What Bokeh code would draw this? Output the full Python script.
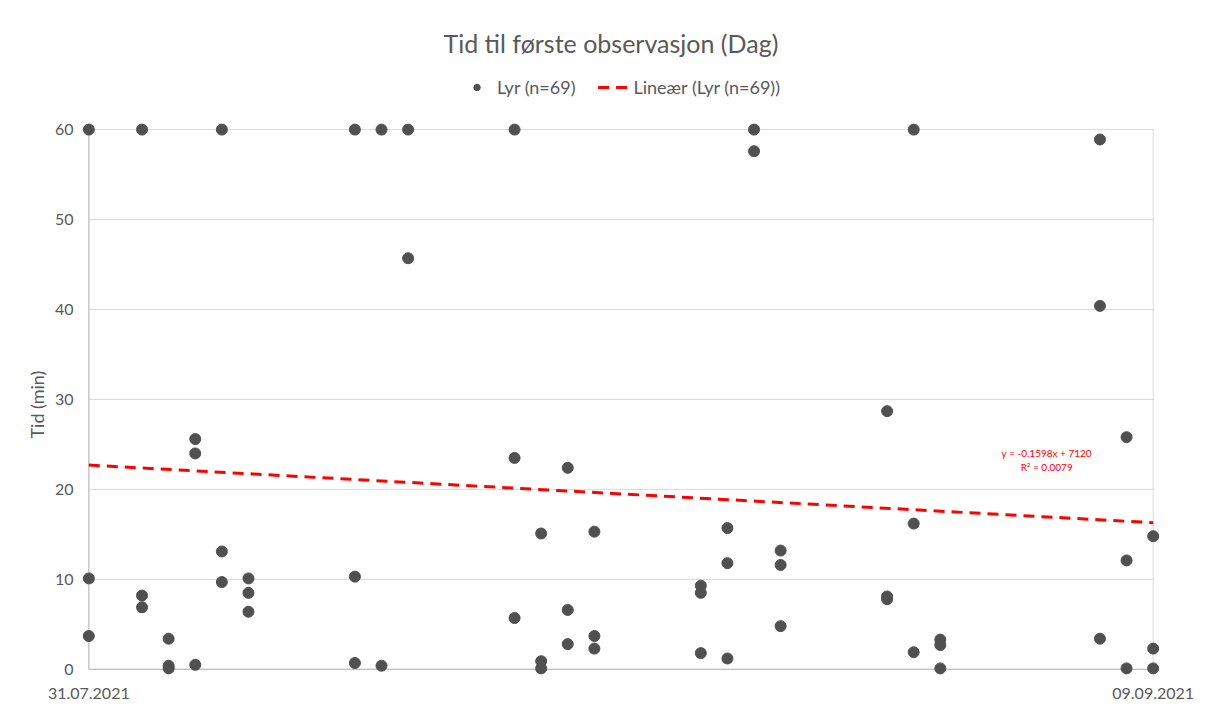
import pandas as pd
from bokeh.plotting import figure
from bokeh.models import (Range1d, Legend, LegendItem, FixedTicker,
                          DatetimeTickFormatter, Label, Title, ColumnDataSource)
from bokeh.embed import file_html
from bokeh.resources import INLINE

# ---------------- data ----------------
title_text = "Tid til første observasjon (Dag)"
series_name = "Lyr (n=69)"
trend_name = "Lineær (Lyr (n=69))"
y_title = "Tid (min)"
trend_equation = "y = -0.1598x + 7120"
trend_r2 = "R² = 0.0079"

obs_date = [
    "31.07.2021", "31.07.2021", "31.07.2021",
    "02.08.2021", "02.08.2021", "02.08.2021",
    "03.08.2021", "03.08.2021", "03.08.2021",
    "04.08.2021", "04.08.2021", "04.08.2021",
    "05.08.2021", "05.08.2021", "05.08.2021",
    "06.08.2021", "06.08.2021", "06.08.2021",
    "10.08.2021", "10.08.2021", "10.08.2021",
    "11.08.2021", "11.08.2021",
    "12.08.2021", "12.08.2021",
    "16.08.2021", "16.08.2021", "16.08.2021",
    "17.08.2021", "17.08.2021", "17.08.2021",
    "18.08.2021", "18.08.2021", "18.08.2021",
    "19.08.2021", "19.08.2021", "19.08.2021",
    "23.08.2021", "23.08.2021", "23.08.2021",
    "24.08.2021", "24.08.2021", "24.08.2021",
    "25.08.2021", "25.08.2021",
    "26.08.2021", "26.08.2021", "26.08.2021",
    "30.08.2021", "30.08.2021", "30.08.2021",
    "31.08.2021", "31.08.2021", "31.08.2021",
    "01.09.2021", "01.09.2021", "01.09.2021",
    "07.09.2021", "07.09.2021", "07.09.2021",
    "08.09.2021", "08.09.2021", "08.09.2021",
    "09.09.2021", "09.09.2021", "09.09.2021",
]
tid_min = [
    60, 10.1, 3.7,
    60, 8.2, 6.9,
    3.4, 0.4, 0.1,
    25.6, 24.0, 0.5,
    60, 13.1, 9.7,
    10.1, 8.5, 6.4,
    60, 10.3, 0.7,
    60, 0.4,
    60, 45.7,
    60, 23.5, 5.7,
    15.1, 0.9, 0.1,
    22.4, 6.6, 2.8,
    15.3, 3.7, 2.3,
    9.3, 8.5, 1.8,
    15.7, 11.8, 1.2,
    60, 57.6,
    13.2, 11.6, 4.8,
    28.7, 8.1, 7.8,
    60, 16.2, 1.9,
    3.3, 2.7, 0.1,
    58.9, 40.4, 3.4,
    25.8, 12.1, 0.1,
    14.8, 2.3, 0.1,
]
trend_dates = ["31.07.2021", "09.09.2021"]
trend_values = [22.7, 16.3]
x_tick_dates = ["31.07.2021", "09.09.2021"]
y_ticks = [0, 10, 20, 30, 40, 50, 60]
equation_date = "05.09.2021"
equation_y = [24.0, 22.5]

# ---------------- prep ----------------
FMT = "%d.%m.%Y"
def to_ms(s):
    return pd.Timestamp(pd.to_datetime(s, format=FMT)).value / 1e6

x_ms = [to_ms(d) for d in obs_date]
tr_ms = [to_ms(d) for d in trend_dates]
tick_ms = [to_ms(d) for d in x_tick_dates]
x0, x1 = tick_ms[0], tick_ms[-1]
day = 86400000.0
pad_x = 0.35 * day
pad_y_bottom = 0.8
pad_y_top = 7.46          # room inside the frame for the legend

TXT = "#595959"
FONT = "Lato"

p = figure(width=1210, height=713, x_axis_type="datetime",
           output_backend="svg", toolbar_location=None,
           x_range=Range1d(x0 - pad_x, x1 + pad_x),
           y_range=Range1d(y_ticks[0] - pad_y_bottom, y_ticks[-1] + pad_y_top),
           min_border_left=79, min_border_right=48,
           min_border_top=62, min_border_bottom=37)
p.outline_line_color = None
p.background_fill_color = "white"
p.border_fill_color = "white"
p.xgrid.visible = False
p.ygrid.visible = False

# title
p.title.text = title_text
p.title.align = "left"
p.title.offset = 364
p.title.text_font = FONT
p.title.text_font_size = "25px"
p.title.text_font_style = "normal"
p.title.text_color = TXT

# gridlines, right border, axis lines
p.segment(x0=[x0] * len(y_ticks), x1=[x1] * len(y_ticks), y0=y_ticks, y1=y_ticks,
          line_color="#d9d9d9", line_width=1)
p.segment(x0=[x1], x1=[x1], y0=[y_ticks[0]], y1=[y_ticks[-1]],
          line_color="#d9d9d9", line_width=1)
p.segment(x0=[x0, x0], x1=[x0, x1], y0=[y_ticks[0], y_ticks[0]],
          y1=[y_ticks[-1], y_ticks[0]], line_color="#bfbfbf", line_width=1.3)

# axes
xa = p.xaxis[0]
xa.ticker = FixedTicker(ticks=tick_ms)
xa.formatter = DatetimeTickFormatter(days=FMT, months=FMT, years=FMT,
                                     hours=FMT, minutes=FMT, seconds=FMT,
                                     milliseconds=FMT, microseconds=FMT,
                                     minsec=FMT, hourmin=FMT)
xa.axis_line_color = None
xa.major_tick_line_color = None
xa.minor_tick_line_color = None
xa.major_tick_out = 0
xa.major_label_standoff = 11
xa.major_label_text_font = FONT
xa.major_label_text_font_size = "16px"
xa.major_label_text_color = TXT

ya = p.yaxis[0]
ya.ticker = FixedTicker(ticks=y_ticks)
ya.axis_line_color = None
ya.major_tick_line_color = None
ya.minor_tick_line_color = None
ya.major_tick_out = 0
ya.major_label_standoff = 6
ya.major_label_text_font = FONT
ya.major_label_text_font_size = "16px"
ya.major_label_text_color = TXT

# y-axis title as a side title, placed over the 0-60 value span
y_title_model = Title(text=y_title, align="left", offset=238, standoff=8)
y_title_model.text_font = FONT
y_title_model.text_font_size = "18px"
y_title_model.text_font_style = "normal"
y_title_model.text_color = TXT
p.add_layout(y_title_model, "left")

# trendline
src_tr = ColumnDataSource(dict(x=tr_ms, y=trend_values))
tr = p.line("x", "y", source=src_tr, line_color="#ff0000", line_width=3,
            line_dash="11 7")

# points
src = ColumnDataSource(dict(x=x_ms, y=tid_min))
sc = p.scatter("x", "y", source=src, size=11, fill_color="#505050",
               line_color="#505050")

# equation
eq_x = to_ms(equation_date)
for txt, yy in zip([trend_equation, trend_r2], equation_y):
    p.add_layout(Label(x=eq_x, y=yy, text=txt, text_align="center",
                       text_baseline="middle", text_font=FONT,
                       text_font_size="10px", text_color="#ff0000"))

legend = Legend(items=[LegendItem(label=series_name, renderers=[sc]),
                       LegendItem(label=trend_name, renderers=[tr])],
                orientation="horizontal", location="top_center",
                border_line_color=None, background_fill_alpha=0,
                label_text_font=FONT, label_text_font_size="18px",
                label_text_color=TXT, glyph_width=30, glyph_height=16,
                spacing=22, padding=4, margin=14, label_standoff=6)
p.add_layout(legend)

open("out.html", "w").write(file_html(p, INLINE))
